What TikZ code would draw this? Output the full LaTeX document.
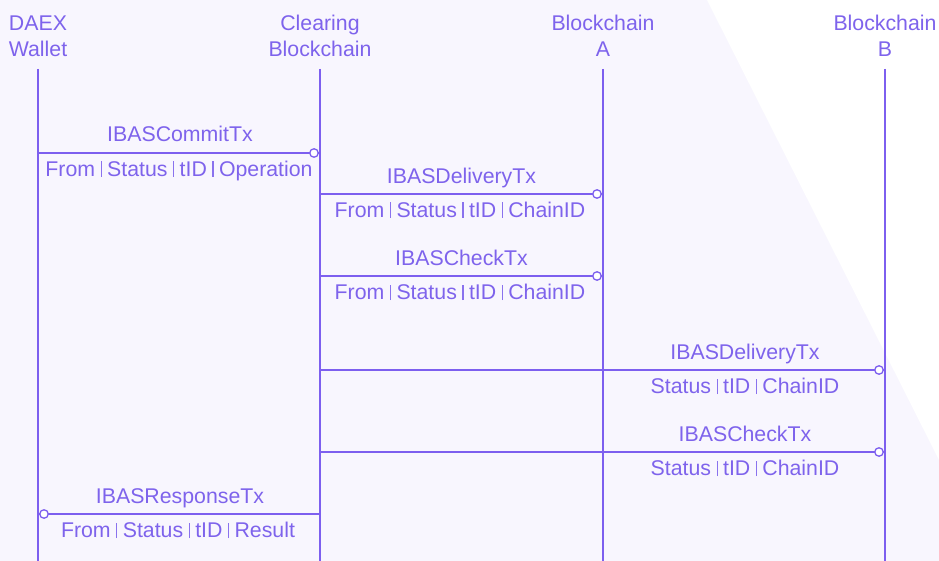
\documentclass[tikz,border=0pt]{standalone}
\usepackage{fontspec}
\setmainfont{Liberation Sans}
\definecolor{pc}{HTML}{7D5FEF}
\definecolor{tc}{HTML}{7E63EC}
\definecolor{bgc}{HTML}{F8F6FE}
\definecolor{sc}{HTML}{8A72EE}
\newcommand\vsep{\hspace{5.5pt}{\color{sc}\rule[-0.5pt]{1.1pt}{15.5pt}}\hspace{5.5pt}}
\begin{document}
\begin{tikzpicture}[x=1pt,y=-1pt,
  life/.style={draw=pc,line width=1.7pt},
  msg/.style={draw=pc,line width=1.7pt},
  head/.style={text=tc,font=\fontsize{21.3}{26}\selectfont,align=center,inner sep=0pt},
  lab/.style={text=tc,font=\fontsize{21.3}{25}\selectfont,inner sep=0pt,anchor=base},
  endc/.style={circle,draw=pc,fill=white,line width=1.3pt,minimum size=8.5pt,inner sep=0pt}]
\useasboundingbox (0,0) rectangle (939,561);
\fill[bgc] (0,0) rectangle (939,561);
\fill[white] (707,0) -- (939,0) -- (939,460) -- cycle;

% headers
\node[head,anchor=base] (w) at (38,57) {DAEX\\Wallet};
\node[head,anchor=base] (c) at (320,57) {Clearing\\Blockchain};
\node[head,anchor=base] (a) at (603,57) {Blockchain\\A};
\node[head,anchor=base] (b) at (885,57) {Blockchain\\B};

% lifelines
\coordinate (wt) at (38,69);  \coordinate (wb) at (38,561);
\coordinate (ct) at (320,69); \coordinate (cb) at (320,561);
\coordinate (at) at (603,69); \coordinate (ab) at (603,561);
\coordinate (bt) at (885,69); \coordinate (bb) at (885,561);
\draw[life] (wt) -- (wb);
\draw[life] (ct) -- (cb);
\draw[life] (at) -- (ab);
\draw[life] (bt) -- (bb);

% message 1
\coordinate (m1s) at (38,153); \coordinate (m1e) at (320,153);
\draw[msg] (m1s) -- (m1e);
\node[endc] (m1c) at (314,153) {};
\node[lab] (m1l) at (180,142) {IBASCommitTx};
\node[lab] (m1f) at (179,176.5) {From\vsep Status\vsep tID\vsep Operation};

% message 2
\coordinate (m2s) at (320,194); \coordinate (m2e) at (603,194);
\draw[msg] (m2s) -- (m2e);
\node[endc] (m2c) at (597,194) {};
\node[lab] (m2l) at (461.5,183.5) {IBASDeliveryTx};
\node[lab] (m2f) at (460,217.5) {From\vsep Status\vsep tID\vsep ChainID};

% message 3
\coordinate (m3s) at (320,276); \coordinate (m3e) at (603,276);
\draw[msg] (m3s) -- (m3e);
\node[endc] (m3c) at (597,276) {};
\node[lab] (m3l) at (461.5,265.5) {IBASCheckTx};
\node[lab] (m3f) at (460,299.5) {From\vsep Status\vsep tID\vsep ChainID};

% message 4
\coordinate (m4s) at (320,370); \coordinate (m4e) at (885,370);
\draw[msg] (m4s) -- (m4e);
\node[endc] (m4c) at (879,370) {};
\node[lab] (m4l) at (745,359.5) {IBASDeliveryTx};
\node[lab] (m4f) at (745,393.5) {Status\vsep tID\vsep ChainID};

% message 5
\coordinate (m5s) at (320,452); \coordinate (m5e) at (885,452);
\draw[msg] (m5s) -- (m5e);
\node[endc] (m5c) at (879,452) {};
\node[lab] (m5l) at (745,441.5) {IBASCheckTx};
\node[lab] (m5f) at (745,475.5) {Status\vsep tID\vsep ChainID};

% message 6
\coordinate (m6s) at (320,514); \coordinate (m6e) at (38,514);
\draw[msg] (m6s) -- (m6e);
\node[endc] (m6c) at (44,514) {};
\node[lab] (m6l) at (180,503.5) {IBASResponseTx};
\node[lab] (m6f) at (178,537.5) {From\vsep Status\vsep tID\vsep Result};
\end{tikzpicture}
\end{document}
